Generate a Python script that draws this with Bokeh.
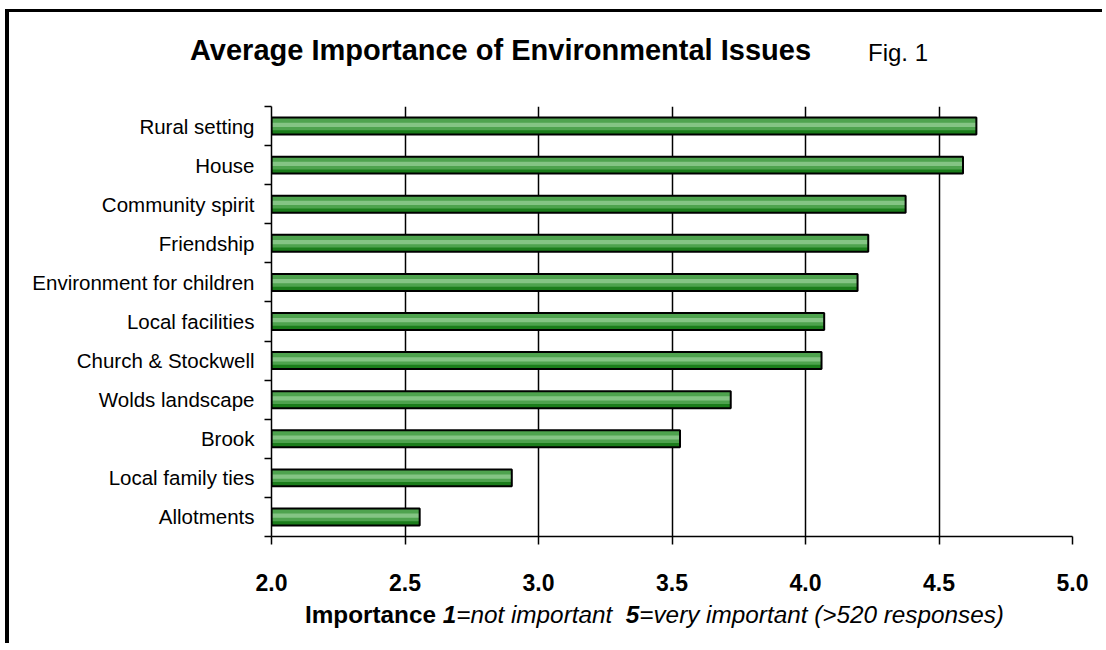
from bokeh.plotting import figure
from bokeh.models import FixedTicker, Range1d, ColumnDataSource, NumeralTickFormatter, Div
from bokeh.layouts import column
from bokeh.transform import dodge
from bokeh.embed import file_html
from bokeh.resources import INLINE

categories = ["Rural setting", "House", "Community spirit", "Friendship",
              "Environment for children", "Local facilities", "Church & Stockwell",
              "Wolds landscape", "Brook", "Local family ties", "Allotments"]
values = [4.64, 4.59, 4.375, 4.235, 4.195, 4.07, 4.06, 3.72, 3.53, 2.90, 2.555]
x_ticks = [2.0, 2.5, 3.0, 3.5, 4.0, 4.5, 5.0]
grid_ticks = [2.5, 3.0, 3.5, 4.0, 4.5]

title_main = "Average Importance of Environmental Issues"
title_fig = "Fig. 1"

n = len(categories)
ys = [n - 1 - i for i in range(n)]
source = ColumnDataSource(dict(cat=categories, val=values, y=ys))

FONT = "Liberation Sans"
W = 1097

p = figure(width=W, height=518, x_range=Range1d(2, 5), y_range=Range1d(-0.5, n - 0.5),
           output_backend="svg", toolbar_location=None, title=None, margin=0,
           min_border_left=262, min_border_right=34, min_border_top=24, min_border_bottom=64)
p.outline_line_color = None

H = 0.434
p.hbar(y="y", left=2, right="val", height=H, fill_color="#1b7d1b", line_color=None, source=source)
p.hbar(y=dodge("y", 0.125 * H), left=2, right="val", height=0.75 * H, fill_color="#4ea34e",
       line_color=None, source=source)
p.hbar(y=dodge("y", 0.075 * H), left=2, right="val", height=0.25 * H, fill_color="#84c484",
       line_color=None, source=source)
p.hbar(y="y", left=2, right="val", height=H, fill_alpha=0, line_color="black", line_width=2,
       source=source)

# grid
p.ygrid.visible = False
p.xgrid.ticker = FixedTicker(ticks=grid_ticks)
p.xgrid.grid_line_color = "black"
p.xgrid.grid_line_width = 1.5

# x axis
xa = p.xaxis[0]
xa.ticker = FixedTicker(ticks=x_ticks)
xa.formatter = NumeralTickFormatter(format="0.0")
xa.major_tick_out = 8
xa.major_tick_in = 0
xa.minor_tick_out = 0
xa.minor_tick_in = 0
xa.axis_line_width = 1.5
xa.major_tick_line_width = 1.5
xa.axis_line_color = "black"
xa.major_tick_line_color = "black"
xa.major_label_text_font = FONT
xa.major_label_text_font_style = "bold"
xa.major_label_text_font_size = "23px"
xa.major_label_text_color = "black"
xa.major_label_standoff = 29

# y axis
ya = p.yaxis[0]
ya.ticker = FixedTicker(ticks=ys, minor_ticks=[b - 0.5 for b in range(n + 1)])
ya.major_label_overrides = {y: c for y, c in zip(ys, categories)}
ya.major_tick_out = 0
ya.major_tick_in = 0
ya.minor_tick_out = 7
ya.minor_tick_in = 0
ya.minor_tick_line_color = "black"
ya.minor_tick_line_width = 1.5
ya.axis_line_width = 1.5
ya.axis_line_color = "black"
ya.major_label_text_font = FONT
ya.major_label_text_font_size = "20.5px"
ya.major_label_text_color = "black"
ya.major_label_standoff = 10

box = "position:relative;width:%dpx;font-family:'Liberation Sans',Arial,sans-serif;color:black;" % W
span = "position:absolute;white-space:nowrap;line-height:1;"

title_html = (
    '<div style="%sheight:70px;">' % box
    + '<span style="%sleft:181px;top:24px;font-size:29px;font-weight:bold;">%s</span>' % (span, title_main)
    + '<span style="%sleft:859px;top:29px;font-size:24px;">%s</span>' % (span, title_fig)
    + '</div>'
)
label_html = (
    '<div style="%sheight:46px;">' % box
    + '<span style="%sleft:296px;top:3px;font-size:24.3px;">' % span
    + '<b>Importance</b> <b><i>1</i></b><i>=not important</i>&nbsp; '
    + '<b><i>5</i></b><i>=very important (&gt;520 responses)</i></span></div>'
)

title_div = Div(text=title_html, width=W, height=70, margin=0)
label_div = Div(text=label_html, width=W, height=46, margin=0)

layout = column(title_div, p, label_div, spacing=0, margin=0)
layout.styles = {"margin-left": "9px", "margin-top": "12px", "box-shadow": "-4px -3px 0 0 black",
                 "background-color": "white"}

open("out.html", "w").write(file_html(layout, INLINE))
